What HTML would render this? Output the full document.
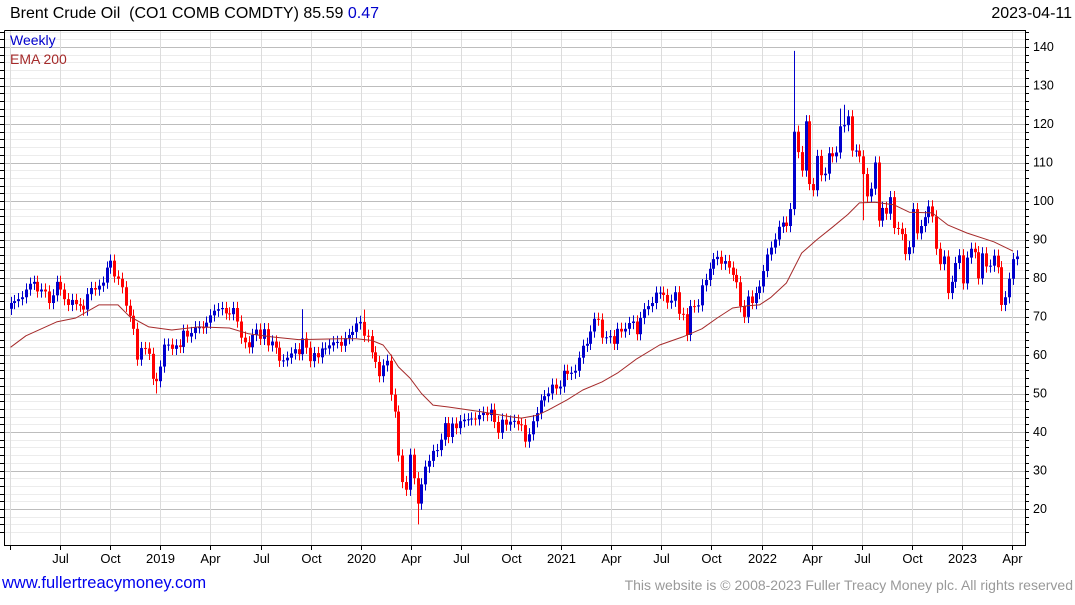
<!DOCTYPE html>
<html><head><meta charset="utf-8"><style>
body{margin:0;background:#fff;width:1075px;height:600px;overflow:hidden;font-family:"Liberation Sans",sans-serif}
svg text{font-family:"Liberation Sans",sans-serif}
</style></head><body>
<svg id="chart" width="1075" height="600"></svg>
<script>
const closes=[
73.5,74,74.5,75, 77,78.5,79,76.5, 77,76.5,73.5,75.5,79, 77,74.5,73,74.3, 73.2,72.8,71.8,75.8,77.4, 77,78,78.8,82.7, 84.5,80.4,79.8,77.6, 72.8,70.2,66.8,58.8,61.8, 61.7,60.3,53.8,53.2,
57,62.7,62.7,61.6, 62.5,62.1,66.3,64.8, 65.7,67.2,67.2,67.1,68.4, 70.3,71.5,71.9,72.2, 70.8,70.6,72.2,68.7,64.5, 63.3,62,65.2,66.6, 64.2,66.7,62.5,63.5, 61.9,58.5,58.6,59.3,60.4, 61.5,60.2,64.3,61.9, 58.4,60.5,59.4,61.7, 61.7,62.5,63.3,63.4,62.4, 64.4,65.2,66,68.2,
68.6,65,64.9,60.7,58.2, 54.5,57.3,58.5,49.7, 45.3,33.9,27,25, 34.1,28,21.4,26.4, 31,32.5,35.1,35.3,38, 42.3,38.7,42.2,41, 42.8,43.2,43.3,43.5,43.3, 44.4,45,44.4,45.8, 42.6,39.8,43.2,41.9, 42.7,42.9,42,41.8,37.5, 39.4,42.8,44.9,48.2, 49.3,50,52.3,51.3,
51.8,55.9,55.1,55.4,55.9, 59.3,62.4,62.9,66.1, 69.4,69.2,64.5,64.6, 64.9,62.9,66.8,66.1,66.8, 68.3,68.7,65.4,69.6, 71.9,72.7,73.5,76.2, 76.2,75.6,73.6,74.1,76.3, 70.7,70.6,65.2,72.7, 72.6,72.9,78.1,79.5, 82.4,84.9,85.5,83.7,84.4, 82.7,80.8,78.9,72.7, 69.9,75.2,73.5,76.1,77.8,
81.8,86.1,87.9,90, 93.3,94.4,93.5,97.9, 118,112.7,107.9,120.7, 104.4,102.8,111.7,106.7,107.1, 112.4,111.6,112.6,119.4, 119.7,122,113.1,113.1, 111.6,107,101.2,103.2,110, 94.9,98.2,96.7,101, 93,92.8,91.4,86.2,88, 97.9,91.6,93.5,95.8, 98.6,96,87.6,83.6, 85.6,76.1,79,83.9,85.9,
78.6,85.3,87.6,86.7, 79.9,86.4,83,83.2, 85.8,82.8,73,75,79.8, 84.9,85.6];
const firstOpen=72;
const highIdx=[76,92,204,216,217];
const highVal=[71.9,71.8,139,124,125];
const lowIdx=[38,106,134,222];
const lowVal=[50,16,36,95];
const emaIdx=[0,4,12,17,23,28,31,36,42,49,57,62,68,75,86,90,94,97,99,101,104,107,110,114,123,130,133,137,140,145,149,154,158,163,169,175,180,184,188,192,195,198,202,206,210,214,218,221,225,230,234,240,244,249,256,261];
const emaVal=[62,65,68.6,69.6,73,73,70,67.3,66.5,67.3,67,65.5,64.7,64,64.2,64.2,63.8,62.6,60,56.9,54,50,47,46.5,45.2,44,43.6,44.3,45.7,48.4,50.9,53,55.3,59,62.6,64.7,66.8,69.6,72.2,72.8,73,75,78.7,86.5,90,93.2,96.5,99.5,99.7,99,97.1,96.9,93.8,91.7,89.4,87];
const yTicks=[20,30,40,50,60,70,80,90,100,110,120,130,140];
const xLabels=["","Jul","Oct","2019","Apr","Jul","Oct","2020","Apr","Jul","Oct","2021","Apr","Jul","Oct","2022","Apr","Jul","Oct","2023","Apr"];

const NS="http://www.w3.org/2000/svg";
const svg=document.getElementById('chart');
function mk(t,a,p){const e=document.createElementNS(NS,t);for(const k in a)e.setAttribute(k,a[k]);(p||svg).appendChild(e);return e;}
const L=4,R=1025,T=30,B=545;
const y=v=>509-(v-20)*3.85;
const xi=i=>10.5+i*3.841;
const xq=q=>10+q*50.1;

const grid=mk('g',{});


for(let v=14;v<=146;v+=2){const yy=Math.round(y(v))+0.5;if(yy<T||yy>B)continue;
 mk('line',{x1:L,x2:R,y1:yy,y2:yy,stroke:v%10==0?'#bdbdbd':'#ececec','stroke-width':1},grid);
 mk('line',{x1:R,x2:R+4,y1:yy,y2:yy,stroke:'#000'},grid);
 mk('line',{x1:0,x2:L,y1:yy,y2:yy,stroke:'#000'},grid);}
for(let q=0;q<xLabels.length;q++){const xx=Math.round(xq(q))+0.5;
 mk('line',{x1:xx,x2:xx,y1:T,y2:B,stroke:'#dcdcdc'},grid);
 mk('line',{x1:xx,x2:xx,y1:B,y2:B+5,stroke:'#000'},grid);
 if(xLabels[q]){const t=mk('text',{x:xx,y:563,'font-size':13,'text-anchor':'middle',fill:'#000'});t.textContent=xLabels[q];
 
 }}
yTicks.forEach(v=>{const t=mk('text',{x:1033,y:y(v)+4,'font-size':12.5,fill:'#000'});t.textContent=v;
 
 });
mk('polyline',{points:`${L+.5},${T+.5} ${R+.5},${T+.5} ${R+.5},${B+.5} ${L+.5},${B+.5} ${L+.5},${T+.5}`,fill:'none',stroke:'#000'});

const cg=mk('g',{});


let prev=firstOpen;
closes.forEach((c,i)=>{const o=prev;prev=c;
 let hi=Math.max(o,c)+1.6,lo=Math.min(o,c)-1.6;
 const hk=highIdx.indexOf(i);if(hk>=0)hi=highVal[hk];
 const lk=lowIdx.indexOf(i);if(lk>=0)lo=lowVal[lk];
 const col=c>=o?'#0000cc':'#ff0000';const xx=Math.round(xi(i));
 const g=mk('g',{},cg);
 
 
 mk('rect',{x:xx,y:y(hi),width:1,height:y(lo)-y(hi),fill:col},g);
 const top=y(Math.max(o,c)),bot=y(Math.min(o,c));
 mk('rect',{x:xx-1,y:top,width:3,height:Math.max(1,bot-top),fill:col},g);});

const ema=mk('polyline',{points:emaIdx.map((d,k)=>xi(d).toFixed(1)+','+y(emaVal[k]).toFixed(1)).join(' '),fill:'none',stroke:'#a52a2a','stroke-width':1,'stroke-linejoin':'round'});


</script>
<div style="position:absolute;left:10px;top:5px;font-size:16px;color:#000">Brent Crude Oil&nbsp; (CO1 COMB COMDTY) 85.59 <span style="color:#0000cc">0.47</span></div>
<div style="position:absolute;right:3px;top:5px;font-size:16px;color:#000">2023-04-11</div>
<div style="position:absolute;left:10px;top:32px;font-size:14px;color:#0000cc">Weekly</div>
<div style="position:absolute;left:10px;top:51px;font-size:14px;color:#a52a2a">EMA 200</div>
<div style="position:absolute;left:2px;top:574px;font-size:16.5px;color:#0000ee">www.fullertreacymoney.com</div>
<div style="position:absolute;right:2px;top:577px;font-size:14px;color:#999">This website is © 2008-2023 Fuller Treacy Money plc. All rights reserved</div>
</body></html>
